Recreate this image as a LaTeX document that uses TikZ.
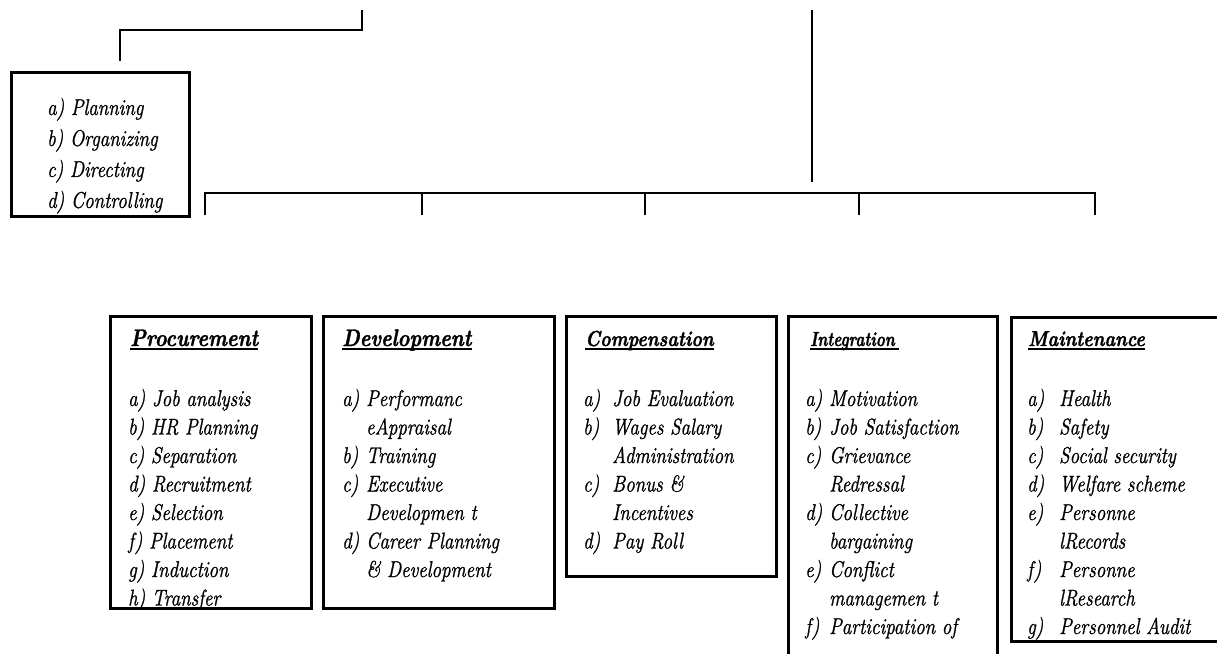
\documentclass[tikz,border=0pt]{standalone}
\usepackage{fontspec}
\usepackage{graphicx}
\setmainfont{Latin Modern Roman}
% heavier pen for the hand-lettered look
\newfontfamily\handfont{Latin Modern Roman}[FakeBold=1.2]
\newfontfamily\headfont{Latin Modern Roman}[FakeBold=1.6]
\usetikzlibrary{calc}
% taller letter shapes, as in brush lettering
\newcommand\tall[1]{\scalebox{1}[1.2]{#1}}
% two-column list: fixed-width label column, then the entry text
\newcommand\hrlist[2]{\tall{\begin{tabular}[t]{@{}p{#1}@{}l@{}}#2\end{tabular}}}
\newcommand\plainlist[1]{\tall{\begin{tabular}[t]{@{}l@{}}#1\end{tabular}}}
\begin{document}
\begin{tikzpicture}[x=1pt,y=-1pt,
  conn/.style={line width=2.6pt},
  frame/.style={draw, line width=3pt},
  items/.style={inner sep=0pt, anchor=base west, font=\handfont\itshape\fontsize{19}{23.75}\selectfont},
  head/.style={inner sep=0pt, anchor=base west, font=\headfont\bfseries\itshape\fontsize{#1}{#1}\selectfont},
  uline/.style={line width=1.3pt}]
\clip (0,0) rectangle (1217,653);
\fill[white] (0,0) rectangle (1217,653);

% connectors from above
\coordinate (topA) at (362,10);
\coordinate (kneeA) at (120,30);
\coordinate (endA) at (120,61);
\draw[conn] (topA) |- (kneeA) -- (endA);
\coordinate (topB) at (812,10);
\coordinate (endB) at (812,182);
\draw[conn] (topB) -- (endB);

% bracket over the five functions
\foreach \i/\x in {1/205,2/422,3/645,4/859,5/1095}{
  \coordinate (b\i) at (\x,193);
  \coordinate (t\i) at (\x,215);
}
\draw[conn] (t1) -- (b1) -- (b5) -- (t5);
\draw[conn] (b2) -- (t2);
\draw[conn] (b3) -- (t3);
\draw[conn] (b4) -- (t4);

% managerial functions
\begin{scope}
\clip (11,72) rectangle (189,215);
\node[items, font=\handfont\itshape\fontsize{19}{25.8}\selectfont] (mgr) at (47,115)
  {\plainlist{a) Planning\\ b) Organizing\\ c) Directing\\ d) Controlling}};
\end{scope}
\draw[frame] (11,72) rectangle (189,216);

% Procurement
\node[head=20] (hproc) at (130,346) {\tall{Procurement}};
\draw[uline] ($(hproc.base west)+(0,3)$) -- ($(hproc.base east)+(0,3)$);
\begin{scope}
\clip (110,316) rectangle (311,607);
\node[items] (lproc) at (128,406)
  {\plainlist{a) Job analysis\\ b) HR Planning\\ c) Separation\\ d) Recruitment\\ e) Selection\\ f) Placement\\ g) Induction\\ h) Transfer}};
\end{scope}
\draw[frame] (110,316) rectangle (311,608);

% Development
\node[head=20] (hdev) at (342,346) {\tall{Development}};
\draw[uline] ($(hdev.base west)+(0,3)$) -- ($(hdev.base east)+(0,3)$);
\node[items] (ldev) at (342,406)
  {\hrlist{24pt}{a) & Performanc\\ & eAppraisal\\ b) & Training\\ c) & Executive\\ & Developmen t\\ d) & Career Planning\\ & \& Development}};
\draw[frame] (323,316) rectangle (554,608);

% Compensation
\node[head=18] (hcomp) at (585,346) {\tall{Compensation}};
\draw[uline] ($(hcomp.base west)+(0,3)$) -- ($(hcomp.base east)+(0,3)$);
\node[items] (lcomp) at (583,406)
  {\hrlist{29pt}{a) & Job Evaluation\\ b) & Wages Salary\\ & Administration\\ c) & Bonus \&\\ & Incentives\\ d) & Pay Roll}};
\draw[frame] (566,316) rectangle (776,576);

% Integration
\node[head=17] (hint) at (810,346) {\scalebox{0.9}[1.2]{Integration}};
\draw[uline] ($(hint.base west)+(0,3)$) -- ($(hint.base east)+(4,3)$);
\node[items] (lint) at (805,406)
  {\hrlist{24pt}{a) & Motivation\\ b) & Job Satisfaction\\ c) & Grievance\\ & Redressal\\ d) & Collective\\ & bargaining\\ e) & Conflict\\ & managemen t\\ f) & Participation of}};
\draw[frame] (788,316) rectangle (997,670);

% Maintenance
\node[head=18] (hmain) at (1028,346) {\tall{Maintenance}};
\draw[uline] ($(hmain.base west)+(0,3)$) -- ($(hmain.base east)+(0,3)$);
\node[items] (lmain) at (1027,406)
  {\hrlist{32pt}{a) & Health\\ b) & Safety\\ c) & Social security\\ d) & Welfare scheme\\ e) & Personne\\ & lRecords\\ f) & Personne\\ & lResearch\\ g) & Personnel Audit}};
\draw[frame] (1011,317) rectangle (1235,641);
\end{tikzpicture}
\end{document}
